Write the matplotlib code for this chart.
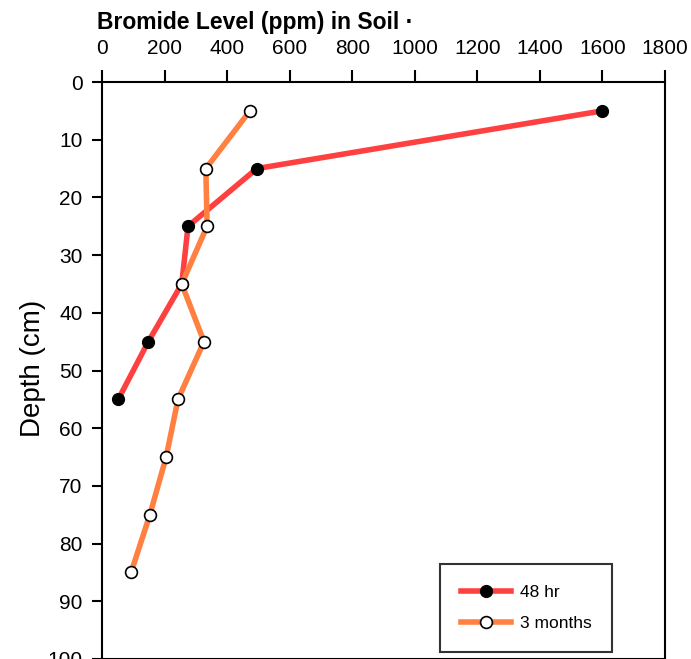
import matplotlib
matplotlib.use("Agg")
import matplotlib.pyplot as plt

depth_48hr = [5, 15, 25, 35, 45, 55]
bromide_48hr = [1600, 495, 275, 255, 148, 52]
depth_3mo = [5, 15, 25, 35, 45, 55, 65, 75, 85]
bromide_3mo = [473, 332, 336, 255, 326, 243, 205, 153, 93]
x_ticks = [0, 200, 400, 600, 800, 1000, 1200, 1400, 1600, 1800]
y_ticks = [0, 10, 20, 30, 40, 50, 60, 70, 80, 90, 100]

plt.rcParams['font.family'] = ['Liberation Sans', 'DejaVu Sans']

W, H = 691, 659
fig = plt.figure(figsize=(W/100, H/100), dpi=100)
ax_w = 665 - 102
ax_h = 659 - 82
ax = fig.add_axes([102/W, 0, ax_w/W, ax_h/H])

ax.plot(bromide_48hr, depth_48hr, color='#FF4040', lw=4, marker='o', ms=8.5,
        mfc='black', mec='black', label='48 hr', zorder=3)
ax.plot(bromide_3mo, depth_3mo, color='#FF8040', lw=4, marker='o', ms=8.5,
        mfc='white', mec='black', mew=1.2, label='3 months', zorder=3)

ax.set_xlim(0, 1800)
ax.set_ylim(100, 0)
ax.xaxis.tick_top()
ax.set_xticks(x_ticks)
ax.set_yticks(y_ticks)
ax.tick_params(axis='x', direction='out', length=8.5, width=1.5, pad=9, labelsize=15)
ax.tick_params(axis='y', direction='out', length=7, width=1.5, pad=7, labelsize=15)
ax.tick_params(axis='x', bottom=False)
ax.tick_params(axis='y', right=False)
for s in ax.spines.values():
    s.set_linewidth(1.5)

ax.set_ylabel('Depth (cm)', fontsize=20, labelpad=0)
ax.yaxis.set_label_coords(-(102-46)/ax_w, 1 - (368-82)/ax_h)
fig.text(97/W, 1 - 22/H, 'Bromide Level (ppm) in Soil ·', fontsize=16.5,
         fontweight='bold', va='center', ha='left')

leg = ax.legend(loc='lower left', bbox_to_anchor=((440-102)/ax_w, 7/ax_h),
                borderaxespad=0, fontsize=12.5, frameon=True, fancybox=False,
                edgecolor='black', handlelength=2.9, handletextpad=0.5,
                borderpad=1.2, labelspacing=0.9)
leg.get_frame().set_linewidth(1.5)

fig.savefig('out.png', dpi=100)
